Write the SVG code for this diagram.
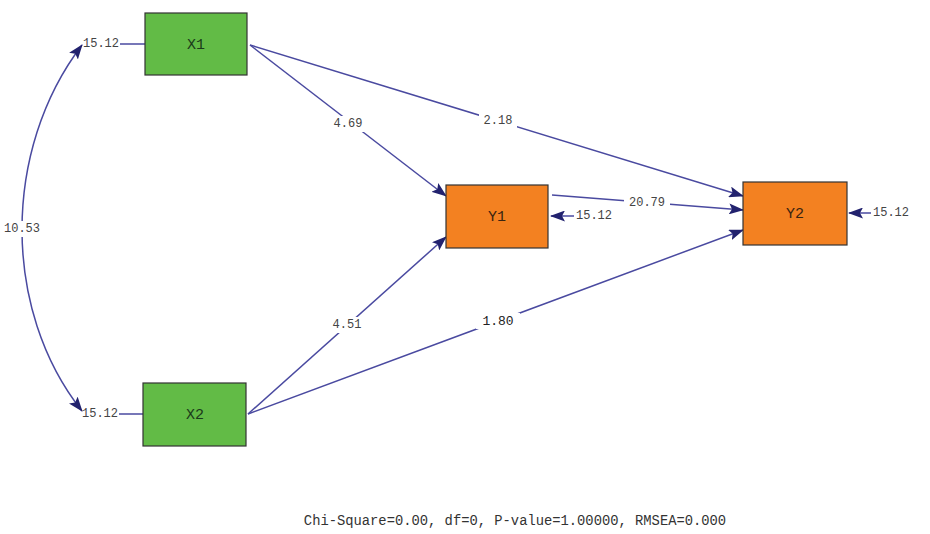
<svg xmlns="http://www.w3.org/2000/svg" width="930" height="534" viewBox="0 0 930 534">
<style>
.edge{fill:none;stroke:#4a4aa0;stroke-width:1.5}
.lbl{font-family:"Liberation Mono",monospace;font-size:12px;fill:#444;text-anchor:middle;dominant-baseline:central}
.bg{fill:#fff}
.box-x{fill:#62bb46;stroke:#333;stroke-width:1.2}
.box-y{fill:#f38121;stroke:#333;stroke-width:1.2}
.name{font-family:"Liberation Mono",monospace;font-size:15px;fill:#1a3a1a;text-anchor:middle;dominant-baseline:central}
.namey{font-family:"Liberation Mono",monospace;font-size:15px;fill:#3a2410;text-anchor:middle;dominant-baseline:central}
</style>
<defs>
<marker id="ah" markerUnits="userSpaceOnUse" markerWidth="15" markerHeight="11" refX="14" refY="5.5" orient="auto-start-reverse">
<path d="M0,0 L15,5.5 L0,11 L3,5.5 Z" fill="#22226e"/>
</marker>
</defs>
<rect width="930" height="534" fill="#fff"/>
<g id="connectors">
<path class="edge" d="M82 411 C2 310 2 150 82 45" marker-start="url(#ah)" marker-end="url(#ah)"/>
<line class="edge" x1="120" y1="44" x2="145" y2="44"/>
<line class="edge" x1="119" y1="414" x2="143" y2="414"/>
<line class="edge" x1="250" y1="45" x2="446" y2="196" marker-end="url(#ah)"/>
<line class="edge" x1="250" y1="45" x2="743" y2="196" marker-end="url(#ah)"/>
<line class="edge" x1="248" y1="414" x2="446" y2="237" marker-end="url(#ah)"/>
<line class="edge" x1="248" y1="414" x2="743" y2="230" marker-end="url(#ah)"/>
<line class="edge" x1="552" y1="195" x2="743" y2="210" marker-end="url(#ah)"/>
<line class="edge" x1="574" y1="216" x2="551" y2="216" marker-end="url(#ah)"/>
<line class="edge" x1="871" y1="213" x2="849" y2="213" marker-end="url(#ah)"/>
<rect class="bg" x="4" y="221" width="36" height="16"/>
<text class="lbl" x="22" y="229">10.53</text>
<rect class="bg" x="330" y="116" width="36" height="16"/>
<text class="lbl" x="348" y="124">4.69</text>
<rect class="bg" x="479" y="113" width="38" height="16"/>
<text class="lbl" x="498" y="121">2.18</text>
<rect class="bg" x="329" y="317" width="36" height="16"/>
<text class="lbl" x="347" y="325">4.51</text>
<rect class="bg" x="476" y="313" width="44" height="16"/>
<text class="lbl" x="498" y="321" style="font-size:13px;fill:#222">1.80</text>
<rect class="bg" x="624" y="195" width="46" height="16"/>
<text class="lbl" x="647" y="203">20.79</text>
<text class="lbl" x="101" y="44">15.12</text>
<text class="lbl" x="100" y="414">15.12</text>
<text class="lbl" x="594" y="216">15.12</text>
<text class="lbl" x="891" y="213">15.12</text>
</g>
<g id="X1"><rect class="box-x" x="145" y="13" width="102" height="62"/><text class="name" x="196" y="45">X1</text></g>
<g id="X2"><rect class="box-x" x="143" y="383" width="103" height="63"/><text class="name" x="195" y="415">X2</text></g>
<g id="Y1"><rect class="box-y" x="446" y="185" width="102" height="63"/><text class="namey" x="497" y="217">Y1</text></g>
<g id="Y2"><rect class="box-y" x="743" y="182" width="104" height="63"/><text class="namey" x="795" y="214">Y2</text></g>
<text x="515" y="521" style="font-family:'Liberation Mono',monospace;font-size:13.8px;fill:#333;text-anchor:middle;dominant-baseline:central">Chi-Square=0.00, df=0, P-value=1.00000, RMSEA=0.000</text>
</svg>
